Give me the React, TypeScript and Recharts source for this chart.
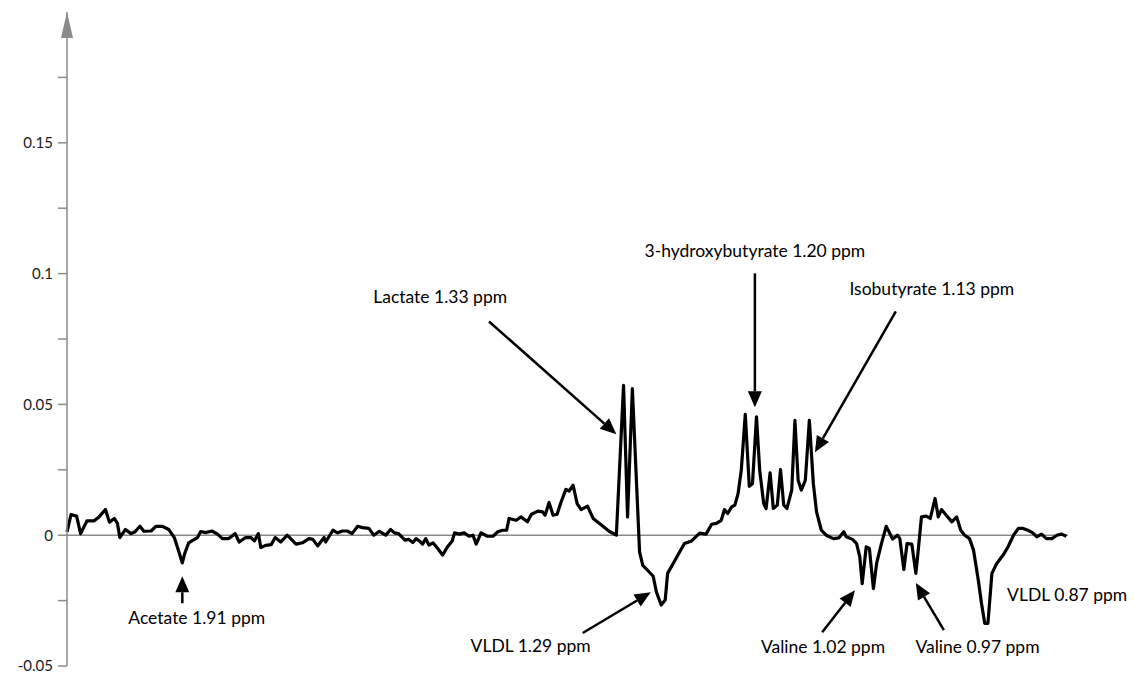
import { LineChart, Line, XAxis, YAxis, ReferenceLine, ReferenceDot } from "recharts";

// chemical shift (ppm) and loading value for each point of the trace
const SHIFT = [
    2.050, 2.045, 2.038, 2.033, 2.025, 2.016, 2.010, 2.002, 1.997, 1.991,
    1.987, 1.984, 1.977, 1.970, 1.965, 1.959, 1.954, 1.945, 1.939, 1.931,
    1.923, 1.916, 1.911, 1.906, 1.903, 1.898, 1.891, 1.887, 1.883, 1.877,
    1.869, 1.862, 1.856, 1.848, 1.840, 1.835, 1.827, 1.820, 1.816, 1.811,
    1.808, 1.802, 1.795, 1.790, 1.783, 1.775, 1.764, 1.756, 1.748, 1.743,
    1.737, 1.729, 1.727, 1.718, 1.712, 1.706, 1.700, 1.694, 1.687, 1.681,
    1.673, 1.667, 1.660, 1.652, 1.646, 1.641, 1.636, 1.628, 1.623, 1.618,
    1.614, 1.610, 1.606, 1.602, 1.598, 1.593, 1.587, 1.581, 1.575, 1.569,
    1.566, 1.560, 1.554, 1.548, 1.543, 1.539, 1.533, 1.525, 1.518, 1.512,
    1.506, 1.501, 1.498, 1.489, 1.483, 1.475, 1.470, 1.462, 1.456, 1.453,
    1.448, 1.443, 1.438, 1.433, 1.427, 1.423, 1.418, 1.413, 1.408, 1.400,
    1.393, 1.385, 1.373, 1.364, 1.355, 1.350, 1.344, 1.335, 1.331, 1.325,
    1.318, 1.314, 1.308, 1.303, 1.300, 1.293, 1.285, 1.279, 1.270, 1.260,
    1.252, 1.245, 1.239, 1.233, 1.229, 1.225, 1.220, 1.216, 1.212, 1.208,
    1.203, 1.198, 1.194, 1.189, 1.185, 1.180, 1.177, 1.172, 1.168, 1.163,
    1.159, 1.155, 1.151, 1.145, 1.141, 1.137, 1.133, 1.128, 1.123, 1.118,
    1.114, 1.108, 1.102, 1.093, 1.086, 1.080, 1.077, 1.069, 1.064, 1.060,
    1.057, 1.052, 1.048, 1.043, 1.039, 1.033, 1.027, 1.019, 1.013, 1.010,
    1.005, 1.001, 0.995, 0.990, 0.987, 0.983, 0.977, 0.972, 0.966, 0.962,
    0.958, 0.952, 0.945, 0.939, 0.934, 0.929, 0.923, 0.918, 0.912, 0.908,
    0.904, 0.900, 0.895, 0.889, 0.881, 0.875, 0.868, 0.862, 0.856, 0.850,
    0.844, 0.839, 0.833, 0.827, 0.820, 0.814, 0.808, 0.802,
];

const INTENSITY = [
    0.0013, 0.0079, 0.0073, 0.0006, 0.0055, 0.0055, 0.0070, 0.0098, 0.0050, 0.0064,
    0.0045, -0.0009, 0.0022, 0.0006, 0.0013, 0.0034, 0.0015, 0.0016, 0.0034, 0.0034,
    0.0022, -0.0009, -0.0057, -0.0106, -0.0070, -0.0029, -0.0016, -0.0009, 0.0014, 0.0010,
    0.0016, 0.0004, -0.0013, -0.0013, 0.0006, -0.0026, -0.0009, -0.0009, -0.0022, 0.0006,
    -0.0047, -0.0039, -0.0036, -0.0009, -0.0026, 0, -0.0034, -0.0029, -0.0013, -0.0016,
    -0.0041, -0.0009, -0.0026, 0.0019, 0.0009, 0.0016, 0.0016, 0.0006, 0.0034, 0.0029,
    0.0026, 0, 0.0015, 0, 0.0022, 0.0009, 0.0006, -0.0019, -0.0016, -0.0028,
    -0.0013, -0.0022, -0.0034, -0.0013, -0.0038, -0.0029, -0.0051, -0.0076, -0.0045, -0.0022,
    0.0009, 0.0004, 0.0009, -0.0004, 0, -0.0034, 0.0009, -0.0004, -0.0004, 0.0013,
    0.0019, 0.0019, 0.0064, 0.0057, 0.0070, 0.0051, 0.0080, 0.0092, 0.0089, 0.0076,
    0.0125, 0.0076, 0.0080, 0.0127, 0.0175, 0.0169, 0.0191, 0.0121, 0.0098, 0.0111,
    0.0064, 0.0045, 0.0015, 0, 0.0573, 0.0070, 0.0560, -0.0064, -0.0115, -0.0134,
    -0.0157, -0.0217, -0.0267, -0.0248, -0.0146, -0.0108, -0.0064, -0.0032, -0.0022, 0.0008,
    0.0004, 0.0042, 0.0045, 0.0057, 0.0098, 0.0083, 0.0108, 0.0115, 0.0159, 0.0248,
    0.0462, 0.0187, 0.0197, 0.0452, 0.0248, 0.0121, 0.0102, 0.0238, 0.0102, 0.0115,
    0.0251, 0.0115, 0.0102, 0.0172, 0.0439, 0.0210, 0.0172, 0.0210, 0.0439, 0.0197,
    0.0089, 0.0019, 0, -0.0013, -0.0010, 0.0013, -0.0006, -0.0016, -0.0032, -0.0083,
    -0.0185, -0.0045, -0.0051, -0.0204, -0.0108, -0.0032, 0.0034, -0.0015, 0, -0.0013,
    -0.0131, -0.0032, -0.0034, -0.0146, -0.0057, 0.0070, 0.0073, 0.0064, 0.0140, 0.0070,
    0.0098, 0.0076, 0.0051, 0.0070, 0.0019, 0, -0.0013, -0.0057, -0.0172, -0.0261,
    -0.0337, -0.0337, -0.0146, -0.0108, -0.0076, -0.0045, 0, 0.0026, 0.0026, 0.0019,
    0.0009, -0.0006, 0.0004, -0.0013, -0.0013, 0, 0.0004, -0.0004,
];

const Y_TICKS = [-0.05, -0.025, 0, 0.025, 0.05, 0.075, 0.1, 0.125, 0.15, 0.175];

// annotation labels: text and centre point [ppm, value]
const NOTE_TEXT = [
    "Acetate 1.91 ppm",
    "Lactate 1.33 ppm",
    "VLDL 1.29 ppm",
    "3-hydroxybutyrate 1.20 ppm",
    "Isobutyrate 1.13 ppm",
    "Valine 1.02 ppm",
    "Valine 0.97 ppm",
    "VLDL 0.87 ppm",
];
const NOTE_AT = [
    [1.888, -0.0313],
    [1.584, 0.0913],
    [1.471, -0.042],
    [1.191, 0.1088],
    [0.97, 0.0944],
    [1.106, -0.0424],
    [0.913, -0.0424],
    [0.801, -0.0225],
];

// arrows: tail and head [ppm, value]
const ARROW_FROM = [
    [1.906, -0.026],
    [1.523, 0.0817],
    [1.406, -0.0374],
    [1.191, 0.1001],
    [1.015, 0.0856],
    [1.107, -0.0371],
    [0.955, -0.0363],
];
const ARROW_TO = [
    [1.906, -0.0157],
    [1.364, 0.0386],
    [1.321, -0.0218],
    [1.191, 0.0489],
    [1.116, 0.0317],
    [1.066, -0.021],
    [0.99, -0.0183],
];

const data = SHIFT.map((ppm, i) => ({ ppm, value: INTENSITY[i] }));

const AXIS_GREY = "#8a8a8a";
const FONT = "Lato, 'Open Sans', sans-serif";

const isMajor = (v: number) => Math.abs(v * 20 - Math.round(v * 20)) < 1e-6;

function Arrow(props: any) {
    const { x1, y1, x2, y2 } = props;
    const dx = x2 - x1;
    const dy = y2 - y1;
    const len = Math.hypot(dx, dy) || 1;
    const ux = dx / len;
    const uy = dy / len;
    const head = 16;
    const half = 7;
    const bx = x2 - ux * head;
    const by = y2 - uy * head;
    const pts = `${x2},${y2} ${bx - uy * half},${by + ux * half} ${bx + uy * half},${by - ux * half}`;
    return (
        <g>
            <line x1={x1} y1={y1} x2={bx} y2={by} stroke="#000" strokeWidth={2.5} />
            <polygon points={pts} fill="#000" />
        </g>
    );
}

function AxisHead(props: any) {
    const { cx, cy } = props;
    return <polygon points={`${cx},${cy} ${cx - 6},${cy + 26} ${cx + 6},${cy + 26}`} fill={AXIS_GREY} />;
}

export default function App() {
    return (
        <div style={{ width: 1134, height: 675, background: "#fff" }}>
            <style>{"body{margin:0}"}</style>
            <LineChart width={1134} height={675} data={data} margin={{ top: 12, right: 66, bottom: 9, left: 7 }}>
                <XAxis dataKey="ppm" type="number" domain={[0.8, 2.05]} reversed hide />
                <YAxis
                    type="number"
                    domain={[-0.05, 0.2]}
                    ticks={Y_TICKS}
                    width={60}
                    tickSize={9}
                    tickMargin={5}
                    axisLine={{ stroke: AXIS_GREY, strokeWidth: 1.5 }}
                    tickLine={{ stroke: AXIS_GREY, strokeWidth: 1.5 }}
                    tick={{ fill: "#1a1a1a", fontSize: 15, fontFamily: FONT }}
                    tickFormatter={(v: number) => (isMajor(v) ? String(+v.toFixed(3)) : "")}
                    allowDataOverflow
                />
                <ReferenceLine y={0} stroke={AXIS_GREY} strokeWidth={1.5} />
                <ReferenceDot x={2.05} y={0.2} ifOverflow="visible" shape={AxisHead} />
                <Line
                    type="linear"
                    dataKey="value"
                    stroke="#000"
                    strokeWidth={3.2}
                    strokeLinejoin="round"
                    dot={false}
                    isAnimationActive={false}
                />
                {ARROW_FROM.map((from, i) => (
                    <ReferenceLine
                        key={`arrow-${i}`}
                        ifOverflow="visible"
                        segment={[
                            { x: from[0], y: from[1] },
                            { x: ARROW_TO[i][0], y: ARROW_TO[i][1] },
                        ]}
                        shape={Arrow}
                    />
                ))}
                {NOTE_TEXT.map((text, i) => (
                    <ReferenceDot
                        key={`note-${i}`}
                        x={NOTE_AT[i][0]}
                        y={NOTE_AT[i][1]}
                        ifOverflow="visible"
                        shape={(p: any) => (
                            <text
                                x={p.cx}
                                y={p.cy}
                                textAnchor="middle"
                                dominantBaseline="central"
                                fontFamily={FONT}
                                fontSize={17.5}
                                fill="#000"
                            >
                                {text}
                            </text>
                        )}
                    />
                ))}
            </LineChart>
        </div>
    );
}
